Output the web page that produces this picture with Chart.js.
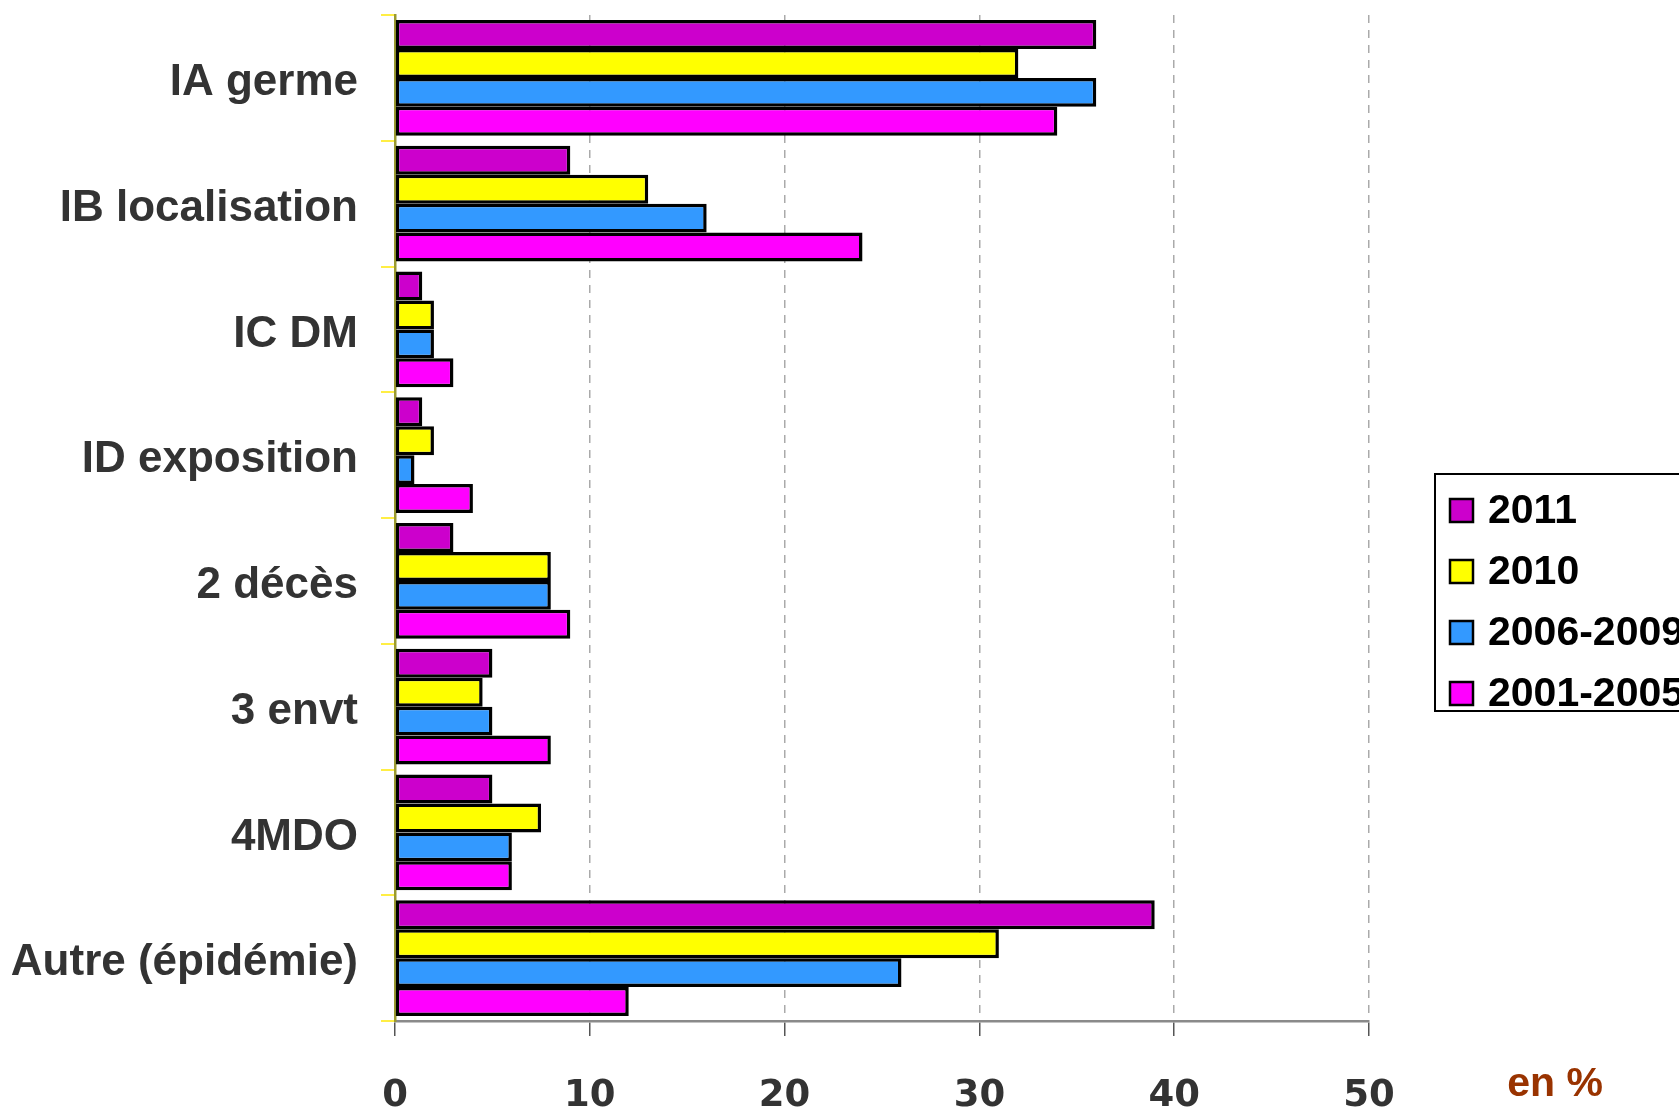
<!DOCTYPE html>
<html>
<head>
<meta charset="utf-8">
<script src="https://cdn.jsdelivr.net/npm/chart.js@4/dist/chart.umd.min.js"></script>
<style>
html,body{margin:0;padding:0;background:#fff;}
#wrap{width:1679px;height:1110px;position:relative;}
</style>
</head>
<body>
<div id="wrap"><canvas id="c" width="1679" height="1110"></canvas></div>
<script>
const categories = ["IA germe", "IB localisation", "IC DM", "ID exposition", "2 décès", "3 envt", "4MDO", "Autre (épidémie)"];
const seriesNames = ["2011", "2010", "2006-2009", "2001-2005"];
const s2011 = [36, 9, 1.4, 1.4, 3, 5, 5, 39];
const s2010 = [32, 13, 2, 2, 8, 4.5, 7.5, 31];
const s2006_2009 = [36, 16, 2, 1, 8, 5, 6, 26];
const s2001_2005 = [34, 24, 3, 4, 9, 8, 6, 12];
const xTicks = [0, 10, 20, 30, 40, 50];
const unitLabel = "en %";

const colors = ["#CC00CC", "#FFFF00", "#3399FF", "#FF00FF"];
const seriesData = [s2011, s2010, s2006_2009, s2001_2005];

const datasets = seriesNames.map((n, i) => ({
  label: n,
  data: seriesData[i],
  backgroundColor: colors[i],
  borderColor: "#000",
  borderWidth: 3.5,
  borderSkipped: false,
  categoryPercentage: 0.92,
  barPercentage: 1.0
}));

const PLOT_LEFT = 395, PLOT_RIGHT = 1369, PLOT_TOP = 15, PLOT_BOTTOM = 1021;

const extras = {
  id: "extras",
  afterDraw(chart) {
    const ctx = chart.ctx;
    ctx.save();
    ctx.font = "bold 41px 'Liberation Sans', Arial, sans-serif";
    ctx.fillStyle = "#993300";
    ctx.textAlign = "center";
    ctx.textBaseline = "middle";
    ctx.fillText(unitLabel, 1555, 1085);
    const bx = 1435, by = 474, bw = 260, bh = 237;
    ctx.fillStyle = "#fff";
    ctx.fillRect(bx, by, bw, bh);
    ctx.strokeStyle = "#000";
    ctx.lineWidth = 2;
    ctx.strokeRect(bx, by, bw, bh);
    ctx.font = "bold 41px 'Liberation Sans', Arial, sans-serif";
    ctx.textAlign = "left";
    chart.data.datasets.forEach((ds, i) => {
      const cy = 510 + i * 61;
      ctx.fillStyle = ds.backgroundColor;
      ctx.fillRect(1450, cy - 11, 23, 23);
      ctx.lineWidth = 2.5;
      ctx.strokeStyle = "#000";
      ctx.strokeRect(1450, cy - 11, 23, 23);
      ctx.fillStyle = "#000";
      ctx.fillText(ds.label, 1488, cy + 2);
    });
    ctx.restore();
  }
};

new Chart(document.getElementById("c"), {
  type: "bar",
  data: { labels: categories, datasets },
  options: {
    indexAxis: "y",
    responsive: false,
    animation: false,
    layout: { padding: { left: 0, right: 1679 - PLOT_RIGHT, top: PLOT_TOP, bottom: 0 } },
    plugins: { legend: { display: false }, tooltip: { enabled: false } },
    scales: {
      x: {
        min: 0, max: 50,
        afterBuildTicks(scale) { scale.ticks = xTicks.map(v => ({ value: v })); },
        afterFit(scale) { scale.height = 1110 - PLOT_BOTTOM; scale.paddingLeft = 0; scale.paddingRight = 0; },
        grid: {
          color: "#aaaaaa",
          lineWidth: 1.5,
          tickLength: 15,
          tickColor: "#555",
          tickBorderDash: [],
          tickWidth: 1.5
        },
        border: { display: true, color: "#8a8a8a", width: 2.5, dash: [8, 7] },
        ticks: {
          color: "#333",
          padding: 38,
          font: { family: "'DejaVu Sans', Verdana, sans-serif", weight: "bold", size: 37 }
        }
      },
      y: {
        afterFit(scale) { scale.width = PLOT_LEFT; scale.paddingTop = 0; scale.paddingBottom = 0; },
        grid: {
          drawOnChartArea: false,
          color: "#ffee44",
          tickLength: 14,
          lineWidth: 2
        },
        border: { display: true, color: "#9a9a30", width: 2.5 },
        ticks: {
          color: "#333",
          padding: 23,
          labelOffset: 5,
          font: { family: "'Liberation Sans', Arial, sans-serif", weight: "bold", size: 44 }
        }
      }
    }
  },
  plugins: [extras]
});
</script>
</body>
</html>
